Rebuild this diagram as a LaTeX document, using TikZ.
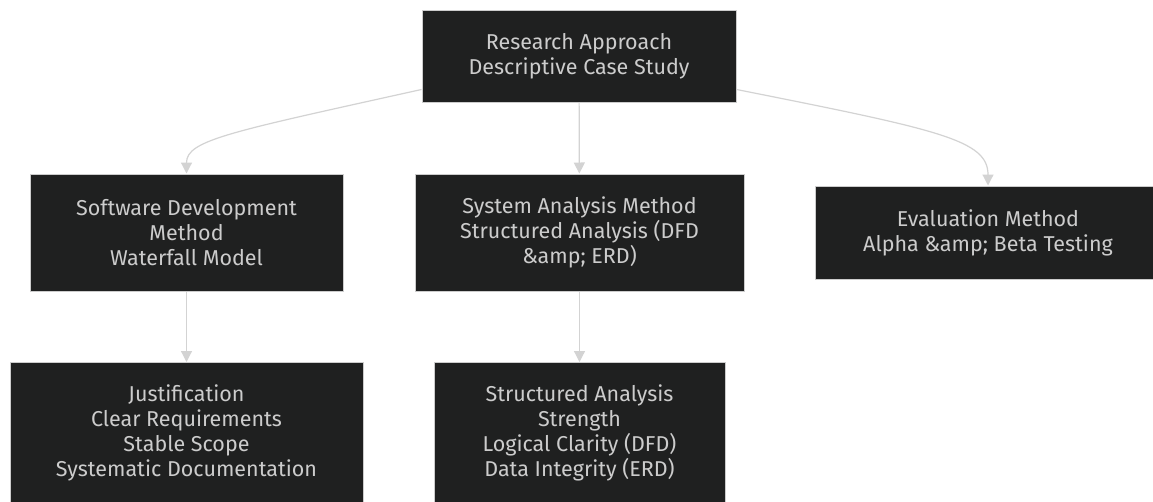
\documentclass[tikz,border=0pt]{standalone}
\usepackage{fontspec}
\setmainfont{Fira Sans}
\usetikzlibrary{arrows.meta}
\definecolor{boxfill}{HTML}{1F2020}
\definecolor{boxline}{HTML}{CCCCCC}
\definecolor{linkgray}{HTML}{D3D3D3}
\begin{document}
\begin{tikzpicture}[
        x=1pt, y=-1pt,
        box/.style={rectangle, draw=boxline, line width=1pt, fill=boxfill, text=boxline,
            align=center, inner sep=0pt, font=\fontsize{21.5}{25}\selectfont},
        link/.style={draw=linkgray, line width=1.2pt,
            -{Triangle[length=11pt, width=11pt, fill=linkgray]}}
    ]
    \useasboundingbox[fill=white] (0,0) rectangle (1153,501);
    \node[box, minimum width=314pt, minimum height=92pt] (approach) at (579, 56)
        {Research Approach\\Descriptive Case Study};
    \node[box, minimum width=313pt, minimum height=117pt] (swdev) at (186.5, 232.5)
        {Software Development\\Method\\Waterfall Model};
    \node[box, minimum width=329pt, minimum height=117pt] (sysan) at (579.5, 232.5)
        {System Analysis Method\\Structured Analysis (DFD\\\&amp; ERD)};
    \node[box, minimum width=346pt, minimum height=93pt] (evalm) at (988, 232.5)
        {Evaluation Method\\Alpha \&amp; Beta Testing};
    \node[box, minimum width=353pt, minimum height=141pt] (justif) at (186.5, 433)
        {Justification\\Clear Requirements\\Stable Scope\\Systematic Documentation};
    \node[box, minimum width=291pt, minimum height=141pt] (strength) at (579.5, 433)
        {Structured Analysis\\Strength\\Logical Clarity (DFD)\\Data Integrity (ERD)};
    \draw[link] (approach.192) .. controls (230,132) and (186.5,140) .. (swdev.north);
    \draw[link] (approach) -- (sysan);
    \draw[link] (approach.-12) .. controls (940,130) and (988,140) .. (evalm.north);
    \draw[link] (swdev) -- (justif);
    \draw[link] (sysan) -- (strength);
\end{tikzpicture}
\end{document}
